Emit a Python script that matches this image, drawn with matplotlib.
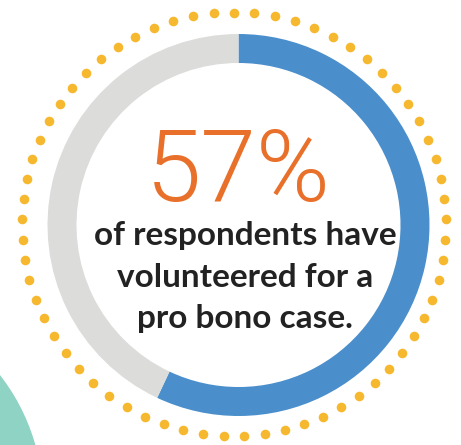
import numpy as np
import matplotlib
matplotlib.use("Agg")
import matplotlib.pyplot as plt
from matplotlib.patches import Circle

# data
share_values = [57, 43]            # volunteered / not
share_colors = ['#4a8fcc', '#dcdcda']
headline = '57%'
caption_lines = ['of respondents have', 'volunteered for a', 'pro bono case.']

W, H = 461, 445
fig = plt.figure(figsize=(W / 100, H / 100), dpi=100)
ax = fig.add_axes([0, 0, 1, 1])

# teal blob in the lower-left corner
ax.add_patch(Circle((-160, H - 500), 203, color='#8fd3c4', lw=0, zorder=0))

# dotted ring
n_dots = 65
ang = np.pi / 2 - np.arange(n_dots) * 2 * np.pi / n_dots
ax.scatter(234 + 212 * np.cos(ang), (H - 224.5) + 212 * np.sin(ang),
           s=48, color='#f5b82e', lw=0, zorder=1)

# donut
ax.pie(share_values, colors=share_colors, radius=191, center=(238.5, H - 225),
       startangle=90, counterclock=False, wedgeprops=dict(width=29, lw=0),
       frame=True)
ax.set_xlim(0, W)
ax.set_ylim(0, H)
ax.set_aspect('equal')
ax.axis('off')

ax.text(238, H - 201, headline, ha='center', va='baseline', color='#e8702a',
        fontsize=72, family='Roboto', fontweight=300)

for txt, yb in zip(caption_lines, [245, 287, 328]):
    ax.text(245, H - yb, txt, ha='center', va='baseline', color='#222222',
            fontsize=24, family='Lato', fontweight='bold')

fig.savefig('out.png', dpi=100)
